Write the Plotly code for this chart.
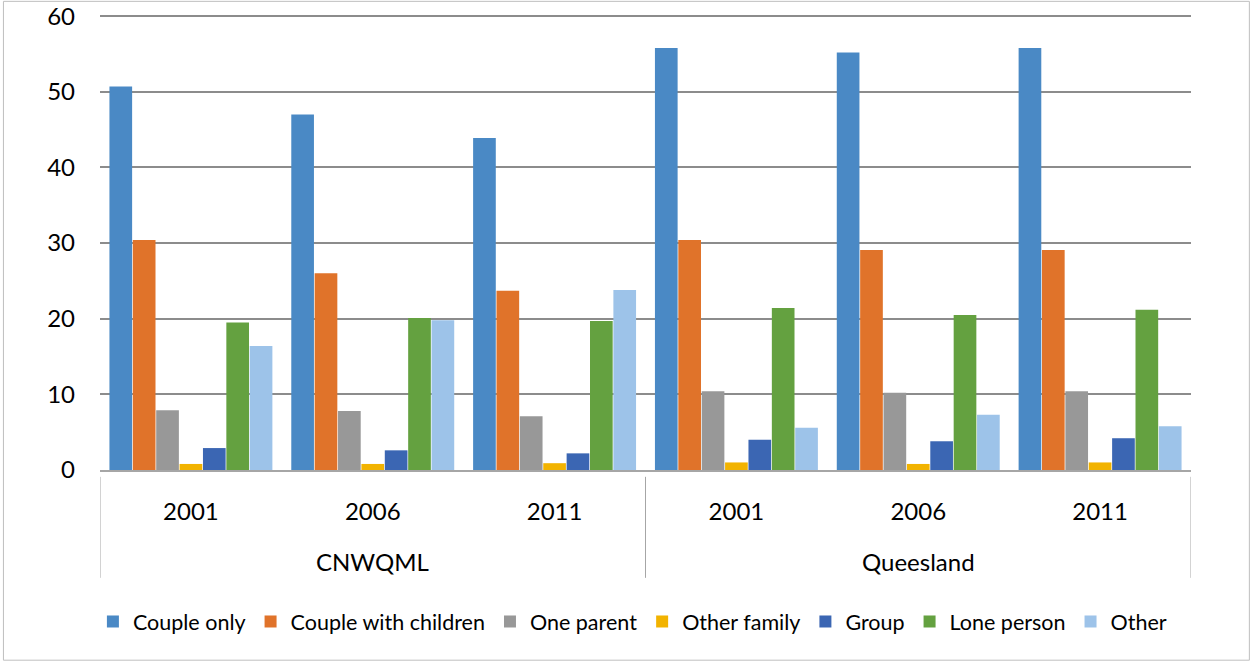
import plotly.graph_objects as go

regions = ["CNWQML", "CNWQML", "CNWQML", "Queesland", "Queesland", "Queesland"]
years = ["2001", "2006", "2011", "2001", "2006", "2011"]
region_names = ["CNWQML", "Queesland"]

couple_only = [50.7, 47.0, 43.9, 55.8, 55.2, 55.8]
couple_with_children = [30.4, 26.0, 23.7, 30.4, 29.1, 29.1]
one_parent = [7.9, 7.8, 7.1, 10.4, 10.2, 10.4]
other_family = [0.8, 0.8, 0.9, 1.0, 0.8, 1.0]
group = [2.9, 2.6, 2.2, 4.0, 3.8, 4.2]
lone_person = [19.5, 20.1, 19.7, 21.4, 20.5, 21.2]
other = [16.4, 19.8, 23.8, 5.6, 7.3, 5.8]

series = [
    ("Couple only", couple_only, "#4A89C5"),
    ("Couple with children", couple_with_children, "#E0732A"),
    ("One parent", one_parent, "#989898"),
    ("Other family", other_family, "#F2B300"),
    ("Group", group, "#3B66B3"),
    ("Lone person", lone_person, "#64A140"),
    ("Other", other, "#9DC3E9"),
]

FONT = "Lato, 'Open Sans', sans-serif"
keys = [f"{r}|{y}" for r, y in zip(regions, years)]

fig = go.Figure()
for name, vals, col in series:
    fig.add_trace(go.Bar(
        name=name,
        x=keys,
        y=vals,
        marker=dict(color=col, line=dict(width=0)),
    ))

# region labels and dividers derived from the category positions
annotations = []
shapes = []
n_per = len(years) // len(region_names)
for i, rn in enumerate(region_names):
    center = i * n_per + (n_per - 1) / 2
    annotations.append(dict(
        x=center, xref="x", y=-0.202, yref="paper",
        text=rn, showarrow=False, xanchor="center", yanchor="middle",
        font=dict(family=FONT, size=24, color="#000000"),
    ))
for b in range(len(region_names) + 1):
    xb = b * n_per - 0.5
    shapes.append(dict(
        type="line", xref="x", yref="paper",
        x0=xb, x1=xb, y0=-0.015, y1=-0.237,
        line=dict(color="#A6A6A6", width=1),
    ))
shapes.append(dict(
    type="rect", xref="paper", yref="paper",
    x0=-0.0885, x1=1.0535, y0=-0.418, y1=1.03,
    line=dict(color="#BFBFBF", width=1), fillcolor="rgba(0,0,0,0)",
    layer="below",
))

fig.update_layout(
    width=1251, height=661,
    barmode="group",
    bargap=0.1,
    bargroupgap=0.03,
    plot_bgcolor="white",
    paper_bgcolor="white",
    margin=dict(l=100, r=60, t=15, b=191, autoexpand=False),
    font=dict(family=FONT, size=24, color="#000000"),
    legend=dict(
        orientation="h",
        x=0.488, xanchor="center",
        y=-0.333, yanchor="middle",
        font=dict(family=FONT, size=21.5, color="#000000"),
        itemwidth=30,
        traceorder="normal",
    ),
    xaxis=dict(
        type="category",
        tickvals=keys,
        ticktext=years,
        showline=True, linecolor="#A6A6A6", linewidth=2,
        showgrid=False,
        tickfont=dict(family=FONT, size=24, color="#000000"),
        ticks="",
        ticklabelstandoff=19,
        range=[-0.5, len(keys) - 0.5],
    ),
    yaxis=dict(
        range=[0, 60.15],
        tickvals=[0, 10, 20, 30, 40, 50, 60],
        showgrid=True, gridcolor="#8C8C8C", gridwidth=2,
        zeroline=False,
        tickfont=dict(family=FONT, size=24, color="#000000"),
        ticklabelstandoff=24,
    ),
    annotations=annotations,
    shapes=shapes,
)

fig.write_html("out.html")
